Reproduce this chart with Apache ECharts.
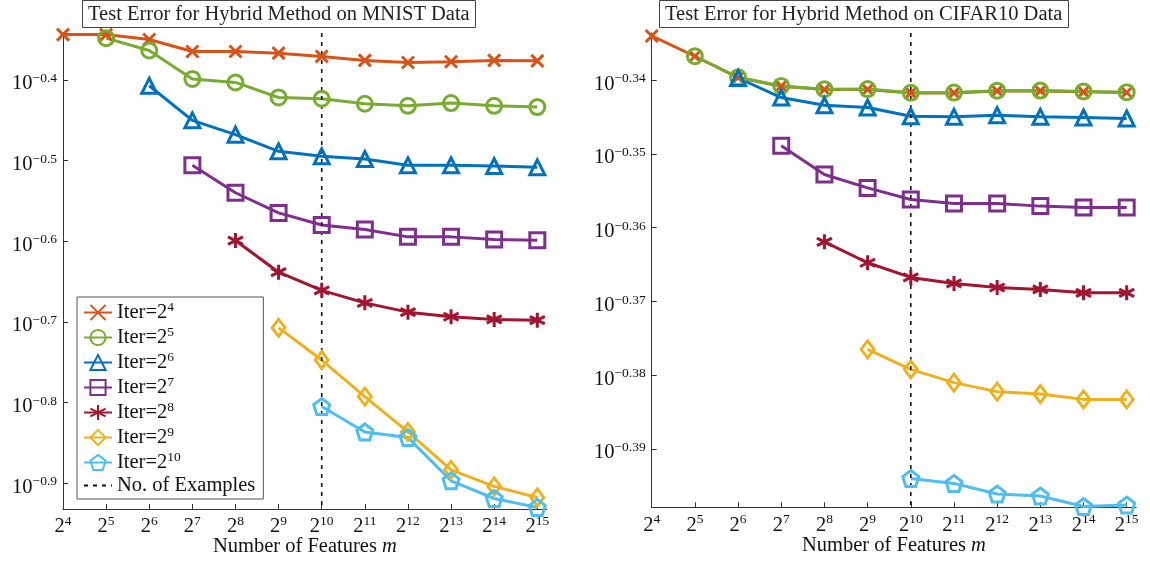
<!DOCTYPE html>
<html>
<head>
<meta charset="utf-8">
<script src="https://cdn.jsdelivr.net/npm/echarts@6/dist/echarts.min.js"></script>
<style>
html, body { margin: 0; padding: 0; background: #fff; }
#chart { width: 1150px; height: 561px; }
</style>
</head>
<body>
<div id="chart"></div>
<script>
// x positions are exponents of 2 (number of features m = 2^k)
var featureExps = [4, 5, 6, 7, 8, 9, 10, 11, 12, 13, 14, 15]
var iterExps = ['4', '5', '6', '7', '8', '9', '10']
var numExamplesExp = 10

// y values are log10 of the test error
var mnistIter4 = [-0.344, -0.344, -0.350, -0.365, -0.365, -0.367, -0.371, -0.376, -0.3785, -0.3777, -0.376, -0.3765]
var mnistIter5 = [null, -0.3484, -0.3637, -0.399, -0.4033, -0.4219, -0.4235, -0.4297, -0.4322, -0.4289, -0.4322, -0.4338]
var mnistIter6 = [null, null, -0.4074, -0.4503, -0.468, -0.4887, -0.4949, -0.4982, -0.506, -0.506, -0.507, -0.5085]
var mnistIter7 = [null, null, null, -0.506, -0.540, -0.565, -0.580, -0.5856, -0.5947, -0.5947, -0.598, -0.5989]
var mnistIter8 = [null, null, null, null, -0.5993, -0.6385, -0.661, -0.6765, -0.688, -0.6937, -0.697, -0.698]
var mnistIter9 = [null, null, null, null, null, -0.7073, -0.7474, -0.7927, -0.8365, -0.8835, -0.904, -0.9177]
var mnistIter10 = [null, null, null, null, null, null, -0.805, -0.8365, -0.8435, -0.897, -0.919, -0.930]

var cifarIter4 = [-0.3340, -0.33675, -0.33964, -0.34081, -0.34126, -0.34126, -0.34172, -0.34172, -0.34145, -0.34145, -0.34158, -0.34167]
var cifarIter5 = [null, -0.33675, -0.33960, -0.34078, -0.34122, -0.34120, -0.34170, -0.34168, -0.34142, -0.34140, -0.34152, -0.34162]
var cifarIter6 = [null, null, -0.3397, -0.34235, -0.34339, -0.3437, -0.34488, -0.34497, -0.34474, -0.34497, -0.34506, -0.34519]
var cifarIter7 = [null, null, null, -0.3489, -0.35278, -0.3546, -0.35617, -0.35671, -0.35671, -0.35707, -0.35726, -0.35726]
var cifarIter8 = [null, null, null, null, -0.36191, -0.36475, -0.36674, -0.36755, -0.3681, -0.36836, -0.36882, -0.36882]
var cifarIter9 = [null, null, null, null, null, -0.37649, -0.3792, -0.381, -0.38222, -0.38255, -0.38327, -0.38327]
var cifarIter10 = [null, null, null, null, null, null, -0.3940, -0.39466, -0.3961, -0.39637, -0.3978, -0.39759]

var mnistYTicks = [-0.9, -0.8, -0.7, -0.6, -0.5, -0.4]
var cifarYTicks = [-0.39, -0.38, -0.37, -0.36, -0.35, -0.34]

var FONT = 'Liberation Serif'
var colors = ['#D95319', '#77AC30', '#0072BD', '#7E2F8E', '#A2142F', '#EDB120', '#4DBEEE']
var symbols = [
  'path://M0,0L10,10M0,10L10,0',
  'circle',
  'triangle',
  'rect',
  'path://M5,0L5,10M0.67,2.5L9.33,7.5M0.67,7.5L9.33,2.5',
  'diamond',
  'path://M5,0L9.755,3.455L7.939,9.045L2.061,9.045L0.245,3.455Z'
]
var symbolSizes = [12, 15, 15, 15, 15, [13, 17], 16]

var richText = {
  b: { fontFamily: FONT, fontSize: 20.5, color: '#111', lineHeight: 24 },
  s: { fontFamily: FONT, fontSize: 13.5, color: '#111', lineHeight: 24, padding: [0, 0, 11, 0] },
  i: { fontFamily: FONT, fontSize: 20.5, color: '#111', fontStyle: 'italic', lineHeight: 24 }
}

function pairs (values) {
  var out = []
  values.forEach(function (v, i) {
    if (v !== null) out.push([featureExps[i], v])
  })
  return out
}

function iterName (k) { return 'Iter=2^' + iterExps[k] }

var mnistSets = [mnistIter4, mnistIter5, mnistIter6, mnistIter7, mnistIter8, mnistIter9, mnistIter10]
var cifarSets = [cifarIter4, cifarIter5, cifarIter6, cifarIter7, cifarIter8, cifarIter9, cifarIter10]

var mnistRange = [-0.932, -0.342]
var cifarRange = [-0.3979, -0.3336]

function makeSeries (sets, idx) {
  return sets.map(function (vals, k) {
    return {
      name: iterName(k),
      type: 'line',
      xAxisIndex: idx,
      yAxisIndex: idx,
      data: pairs(vals),
      symbol: symbols[k],
      symbolSize: symbolSizes[k],
      showAllSymbol: true,
      lineStyle: { color: colors[k], width: 3 },
      itemStyle: { color: 'rgba(255,255,255,0)', borderColor: colors[k], borderWidth: 3 }
    }
  })
}

function dashSeries (idx, range) {
  return {
    name: 'No. of Examples',
    type: 'line',
    xAxisIndex: idx,
    yAxisIndex: idx,
    data: [[numExamplesExp, range[1]], [numExamplesExp, range[0]]],
    symbol: 'none',
    lineStyle: { color: '#111', width: 1.6, type: [4, 5] },
    itemStyle: { color: 'rgba(0,0,0,0)', borderWidth: 0 }
  }
}

function xAxisCfg (idx) {
  return {
    gridIndex: idx,
    type: 'value',
    min: 4,
    max: 15.22,
    name: '{b|Number of Features }{i|m}',
    nameLocation: 'middle',
    nameGap: 26,
    nameMoveOverlap: false,
    nameTextStyle: { rich: richText },
    axisLine: { onZero: false, lineStyle: { color: '#333', width: 1 } },
    axisTick: { inside: true, length: 5, customValues: featureExps, lineStyle: { color: '#333' } },
    axisLabel: {
      customValues: featureExps,
      margin: 6,
      formatter: function (v) { return '{b|2}{s|' + v + '}' },
      rich: richText
    },
    splitLine: { show: false }
  }
}

function yAxisCfg (idx, range, ticks, digits) {
  return {
    gridIndex: idx,
    type: 'value',
    min: range[0],
    max: range[1],
    axisLine: { show: true, onZero: false, lineStyle: { color: '#333', width: 1 } },
    axisTick: { show: true, inside: true, length: 5, customValues: ticks, lineStyle: { color: '#333' } },
    axisLabel: {
      customValues: ticks,
      margin: 6,
      padding: [8, 0, 0, 0],
      formatter: function (v) { return '{b|10}{s|\u2212' + Math.abs(v).toFixed(digits) + '}' },
      rich: richText
    },
    splitLine: { show: false }
  }
}

var legendNames = iterExps.map(function (e, k) { return iterName(k) }).concat(['No. of Examples'])

var chart = echarts.init(document.getElementById('chart'))
chart.setOption({
  animation: false,
  backgroundColor: '#fff',
  title: [
    {
      text: 'Test Error for Hybrid Method on MNIST Data',
      left: 82, top: 0,
      padding: [4, 6, 3, 6],
      borderColor: '#444', borderWidth: 1,
      textStyle: { fontFamily: FONT, fontSize: 20.5, fontWeight: 'normal', color: '#222' }
    },
    {
      text: 'Test Error for Hybrid Method on CIFAR10 Data',
      left: 659, top: 0,
      padding: [4, 6, 3, 6],
      borderColor: '#444', borderWidth: 1,
      textStyle: { fontFamily: FONT, fontSize: 20.5, fontWeight: 'normal', color: '#222' }
    }
  ],
  legend: {
    data: legendNames,
    orient: 'vertical',
    left: 77,
    top: 297,
    itemWidth: 28,
    itemHeight: 19,
    itemGap: 0,
    padding: [3, 8, 3, 6],
    borderColor: '#555',
    borderWidth: 1,
    backgroundColor: '#fff',
    selectedMode: false,
    formatter: function (name) {
      if (name.indexOf('Iter=2^') === 0) return '{b|Iter=2}{s|' + name.slice(7) + '}'
      return '{b|' + name + '}'
    },
    textStyle: { rich: richText }
  },
  grid: [
    { left: 63, top: 33, width: 483.8, height: 476, outerBoundsMode: 'none', containLabel: false },
    { left: 651.7, top: 33, width: 484.5, height: 474.3, outerBoundsMode: 'none', containLabel: false }
  ],
  xAxis: [xAxisCfg(0), xAxisCfg(1)],
  yAxis: [
    yAxisCfg(0, mnistRange, mnistYTicks, 1),
    yAxisCfg(1, cifarRange, cifarYTicks, 2)
  ],
  series: makeSeries(mnistSets, 0).concat([dashSeries(0, mnistRange)])
    .concat(makeSeries(cifarSets, 1)).concat([dashSeries(1, cifarRange)])
})
</script>
</body>
</html>
